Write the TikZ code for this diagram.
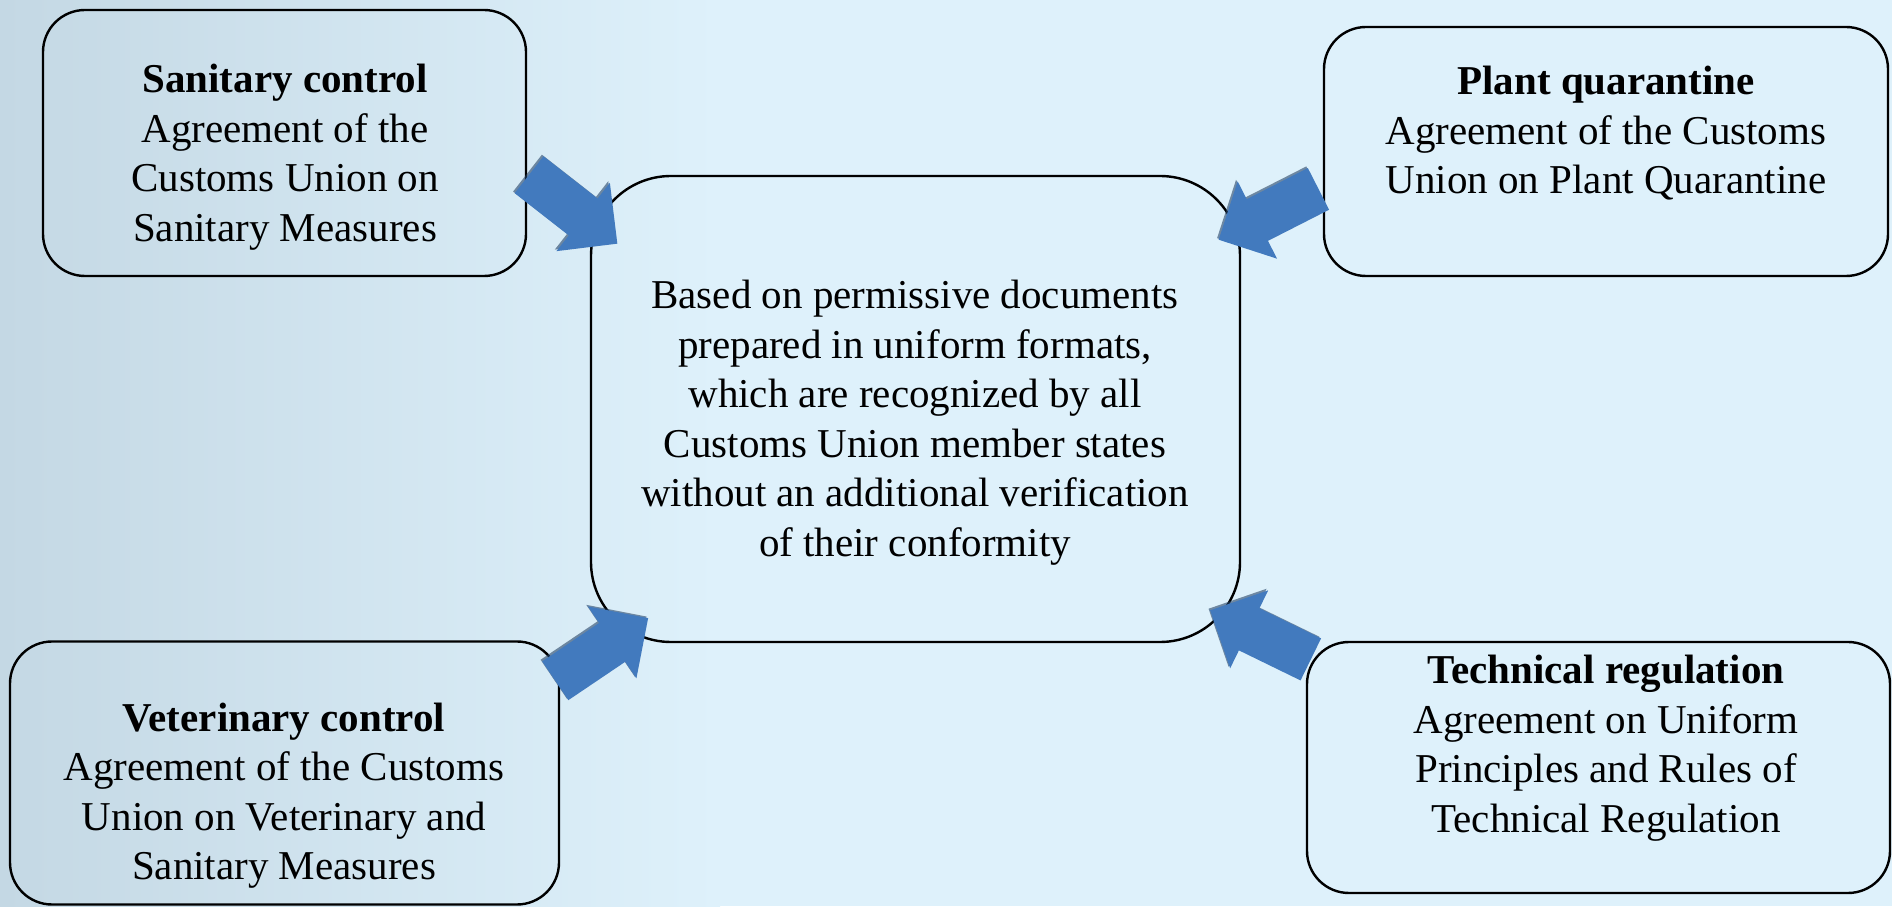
\documentclass[tikz,border=0pt]{standalone}
\usepackage{fontspec}
\setmainfont{Liberation Serif}
\usetikzlibrary{shapes.arrows,shadows}

\definecolor{bgblue}{RGB}{222,241,251}
\definecolor{photoblue}{RGB}{196,216,228}
\definecolor{arrowblue}{RGB}{66,122,190}

\begin{document}
\begin{tikzpicture}[x=1pt, y=1pt,
  box/.style={draw, line width=1.2pt, rounded corners=21pt, inner sep=0pt},
  txt/.style={align=center, font=\fontsize{20.5}{24.75}\selectfont, inner sep=0pt},
  blockarrow/.style={single arrow, fill=arrowblue, draw=none, inner xsep=0pt,
    inner ysep=11.5pt, single arrow head extend=10pt, minimum height=56pt,
    drop shadow={shadow xshift=-0.8pt, shadow yshift=0.8pt, opacity=0.6,
      fill=arrowblue!55!black}}
]
\useasboundingbox (0,0) rectangle (946,453);
\fill[bgblue] (0,0) rectangle (946,453);
\shade[left color=photoblue, right color=bgblue] (0,0) rectangle (360,453);

% boxes
\node[box, minimum width=241.5pt, minimum height=133pt] (san) at (142.25,381.5) {};
\node[box, minimum width=282pt, minimum height=124.5pt] (plant) at (803,377.25) {};
\node[box, rounded corners=40pt, minimum width=324.5pt, minimum height=233pt] (ctr) at (457.75,248.5) {};
\node[box, minimum width=274.5pt, minimum height=131.5pt] (vet) at (142.25,66.5) {};
\node[box, minimum width=291.5pt, minimum height=125.5pt] (tech) at (799.25,69.25) {};

% texts
\node[txt] (santxt) at (142.5,374.3) {\textbf{Sanitary control}\\ Agreement of the\\
  Customs Union on\\ Sanitary Measures};
\node[txt] (planttxt) at (803,386.3) {\textbf{Plant quarantine}\\ Agreement of the Customs\\
  Union on Plant Quarantine};
\node[txt] (ctrtxt) at (457.5,241.6) {Based on permissive documents\\ prepared in uniform formats,\\
  which are recognized by all\\ Customs Union member states\\
  without an additional verification\\ of their conformity};
\node[txt] (vettxt) at (142,55.2) {\textbf{Veterinary control}\\ Agreement of the Customs\\
  Union on Veterinary and\\ Sanitary Measures};
\node[txt] (techtxt) at (803,78.8) {\textbf{Technical regulation}\\ Agreement on Uniform\\
  Principles and Rules of\\ Technical Regulation};

% arrows into the centre
\node[blockarrow, rotate=-38] (a1) at (282,352) {};
\node[blockarrow, rotate=207] (a2) at (639.5,348.5) {};
\node[blockarrow, rotate=34] (a3) at (296,125) {};
\node[blockarrow, rotate=154] (a4) at (635.5,133) {};
\end{tikzpicture}
\end{document}
